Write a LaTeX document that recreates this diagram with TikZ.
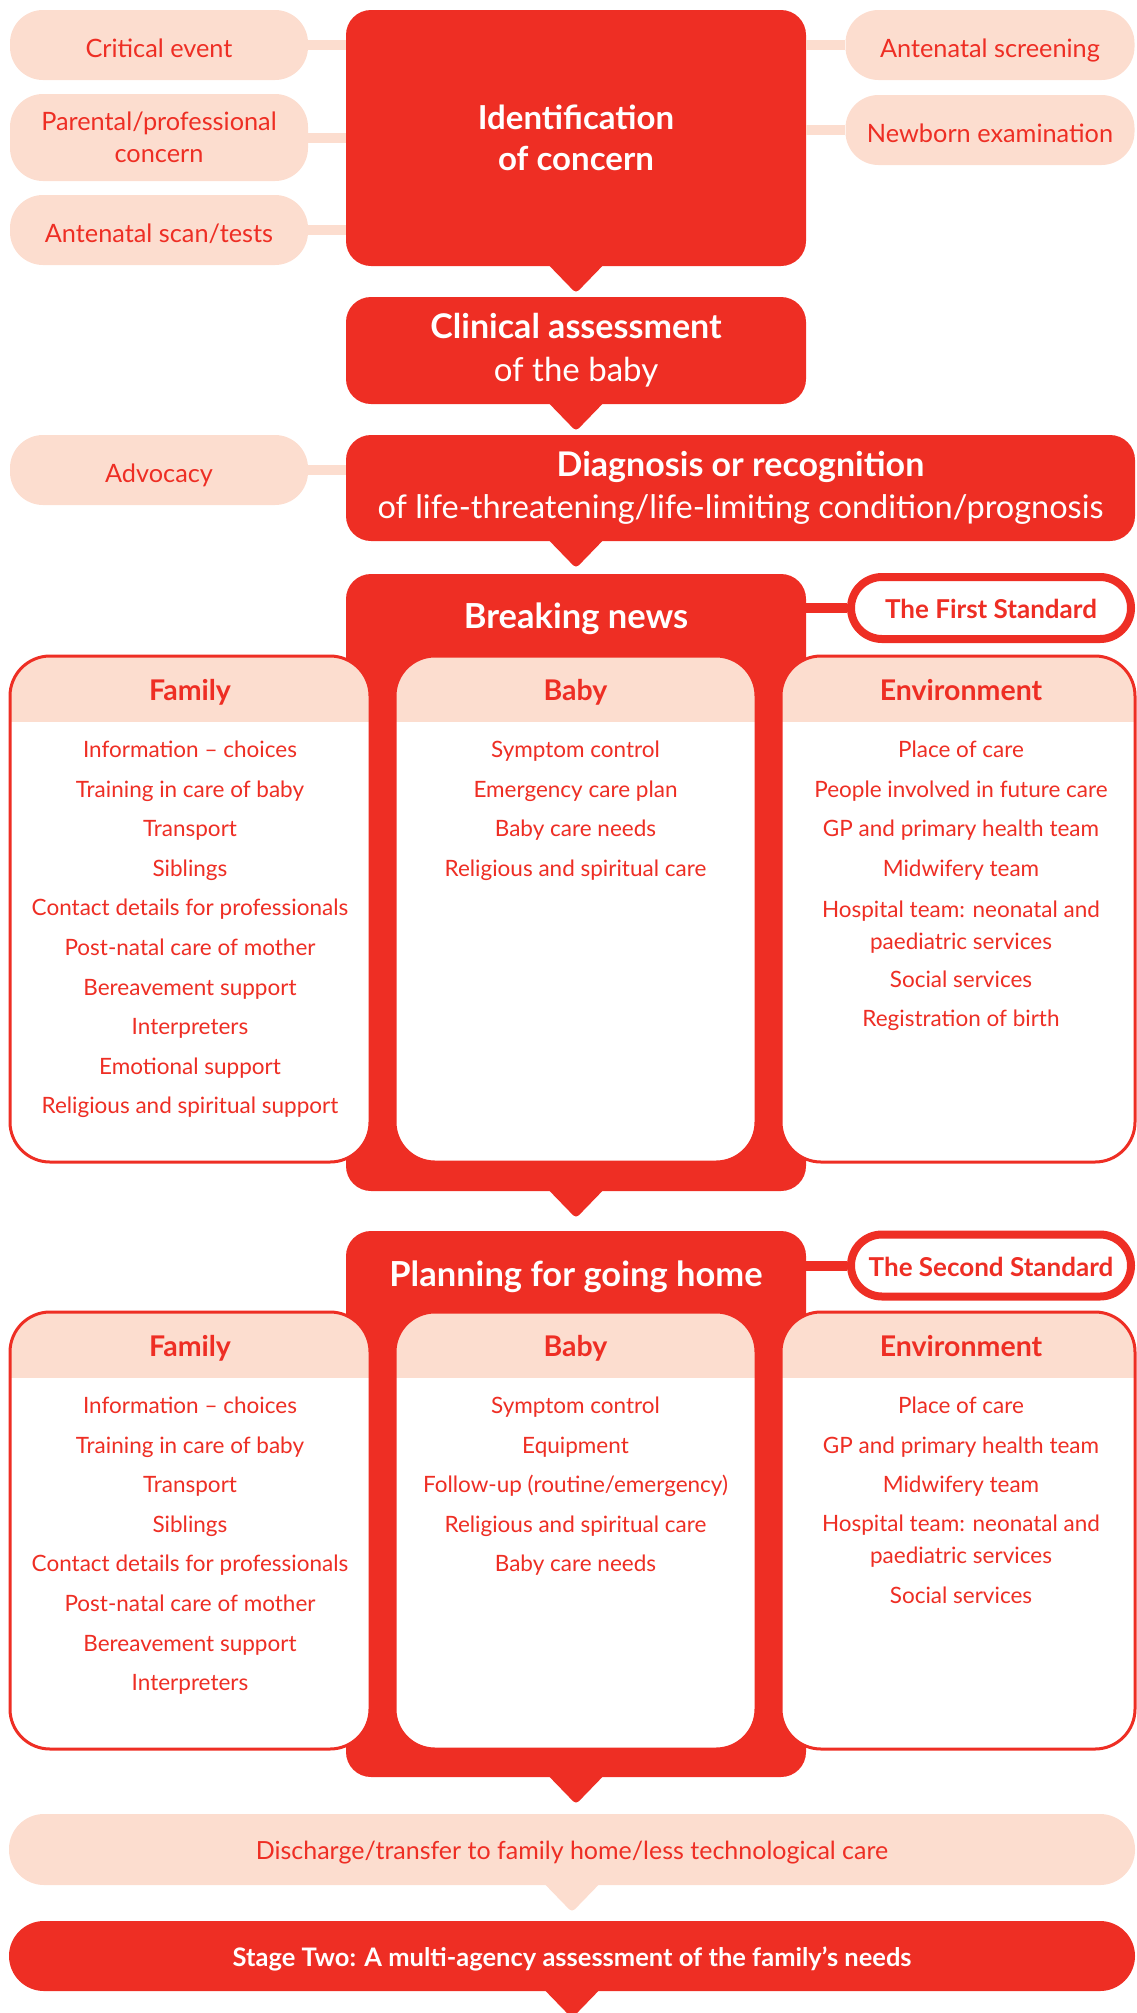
\documentclass[tikz,border=0pt]{standalone}
\usepackage{fontspec}
\setmainfont{Lato}
\definecolor{ncred}{HTML}{EE2E24}
\definecolor{ncpink}{HTML}{FCDDCF}
\begin{document}
\begin{tikzpicture}[x=1pt,y=-1pt,
    redbox/.style={fill=ncred,text=white,rounded corners=25pt,align=center,inner sep=0pt},
    pill/.style={fill=ncpink,text=ncred,rounded corners=33pt,align=center,inner sep=0pt,
      minimum width=298pt,minimum height=70pt,text height=24pt,text depth=0pt,
      font=\fontsize{25.3}{32}\selectfont},
    stdpill/.style={draw=ncred,line width=8pt,fill=white,text=ncred,rounded corners=31pt,
      minimum width=280pt,minimum height=62pt,inner sep=0pt,text height=21pt,text depth=0pt,
      font=\bfseries\fontsize{26}{30}\selectfont},
    colbox/.style={draw=ncred,line width=3pt,fill=white,rounded corners=40pt,inner sep=0pt,
      path picture={\fill[ncpink,sharp corners] (path picture bounding box.north west) rectangle
        ([yshift=-66pt]path picture bounding box.north east);}},
    title/.style={text=white,inner sep=0pt,text height=23pt,text depth=7pt,
      font=\bfseries\fontsize{34.5}{40}\selectfont},
    head/.style={text=ncred,inner sep=0pt,text height=20pt,text depth=6pt,
      font=\bfseries\fontsize{28.5}{32}\selectfont},
    txt/.style={text=ncred,align=center,inner sep=0pt,font=\fontsize{22.5}{32}\selectfont},
    item/.style={txt,text height=16pt,text depth=5pt},
    link/.style={ncpink,line width=10pt},
    stdlink/.style={ncred,line width=10pt}]
\useasboundingbox (0,0) rectangle (1137,2013);
% identification, assessment, diagnosis
\node[redbox,minimum width=460pt,minimum height=256pt,font=\bfseries\fontsize{33}{41}\selectfont]
  (ident) at (576,138) {Identification\\of concern};
\node[redbox,minimum width=460pt,minimum height=107pt,font=\fontsize{33}{43}\selectfont]
  (clin) at (576,350.5) {{\bfseries\fontsize{34}{43}\selectfont Clinical assessment}\\of the baby};
\node[redbox,minimum width=789pt,minimum height=106pt,font=\fontsize{32.5}{42}\selectfont]
  (diag) at (740.5,488) {{\bfseries\fontsize{34}{42}\selectfont Diagnosis or recognition}\\of life-threatening/life-limiting condition/prognosis};
\node[pill] (crit) at (159,45) {Critical event};
\node[pill,minimum height=87pt,text height=,text depth=] (concern) at (159,137.5) {Parental/professional\\concern};
\node[pill] (scan) at (159,230) {Antenatal scan/tests};
\node[pill] (advoc) at (159,470) {Advocacy};
\node[pill,minimum width=289pt] (screen) at (990,45) {Antenatal screening};
\node[pill,minimum width=289pt] (newborn) at (990,130) {Newborn examination};
\foreach \p in {crit,concern,scan}
  \draw[link] (\p.east) -- (\p.east -| ident.west);
\draw[link] (advoc.east) -- (advoc.east -| diag.west);
\foreach \p in {screen,newborn}
  \draw[link] (\p.west) -- (\p.west -| ident.east);
% the first standard
\node[redbox,minimum width=460pt,minimum height=617pt] (brk) at (576,882.5) {};
\node[title] (brkt) at (576,620) {Breaking news};
\node[stdpill] (std1) at (991,608) {The First Standard};
\draw[stdlink] (brk.east |- std1) -- (std1.west);
\node[colbox,minimum width=360pt,minimum height=506pt] (fam1) at (190,909) {};
\node[colbox,minimum width=361pt,minimum height=506pt] (baby1) at (575.5,909) {};
\node[colbox,minimum width=354pt,minimum height=506pt] (env1) at (958,909) {};
\node[head] (fam1h) at ([yshift=-39pt]fam1.north) {Family};
\node[head] (baby1h) at ([yshift=-39pt]baby1.north) {Baby};
\node[head] (env1h) at ([xshift=3pt,yshift=-39pt]env1.north) {Environment};
\foreach \t [count=\i from 0] in {Information – choices,Training in care of baby,Transport,Siblings,
    Contact details for professionals,Post-natal care of mother,Bereavement support,Interpreters,
    Emotional support,Religious and spiritual support}
  \node[item] (fam1-\i) at (190,{752+39.6*\i}) {\t};
\foreach \t [count=\i from 0] in {Symptom control,Emergency care plan,Baby care needs,
    Religious and spiritual care}
  \node[item] (baby1-\i) at (575.5,{752+39.6*\i}) {\t};
\foreach \y/\t [count=\i] in {752/Place of care,791.6/People involved in future care,
    831.2/GP and primary health team,870.8/Midwifery team,982/Social services,1021/Registration of birth}
  \node[item] (env1-\i) at (961,\y) {\t};
\node[txt] (env1-hosp) at (961,927) {Hospital team: neonatal and\\paediatric services};
% the second standard
\node[redbox,minimum width=460pt,minimum height=546pt] (plan) at (576,1504) {};
\node[title] (plant) at (576,1278) {Planning for going home};
\node[stdpill] (std2) at (991,1265.5) {The Second Standard};
\draw[stdlink] (plan.east |- std2) -- (std2.west);
\node[colbox,minimum width=360pt,minimum height=437pt] (fam2) at (190,1530.5) {};
\node[colbox,minimum width=361pt,minimum height=437pt] (baby2) at (575.5,1530.5) {};
\node[colbox,minimum width=354pt,minimum height=437pt] (env2) at (958,1530.5) {};
\node[head] (fam2h) at ([yshift=-39pt]fam2.north) {Family};
\node[head] (baby2h) at ([yshift=-39pt]baby2.north) {Baby};
\node[head] (env2h) at ([xshift=3pt,yshift=-39pt]env2.north) {Environment};
\foreach \t [count=\i from 0] in {Information – choices,Training in care of baby,Transport,Siblings,
    Contact details for professionals,Post-natal care of mother,Bereavement support,Interpreters}
  \node[item] (fam2-\i) at (190,{1408+39.6*\i}) {\t};
\foreach \t [count=\i from 0] in {Symptom control,Equipment,Follow-up (routine/emergency),
    Religious and spiritual care,Baby care needs}
  \node[item] (baby2-\i) at (575.5,{1408+39.6*\i}) {\t};
\foreach \y/\t [count=\i] in {1408/Place of care,1447.6/GP and primary health team,
    1487.2/Midwifery team,1598/Social services}
  \node[item] (env2-\i) at (961,\y) {\t};
\node[txt] (env2-hosp) at (961,1541.5) {Hospital team: neonatal and\\paediatric services};
% discharge and stage two
\node[pill,minimum width=1126pt,minimum height=71pt,rounded corners=35pt,text height=20pt,
  font=\fontsize{25}{32}\selectfont] (disch) at (572,1849.5)
  {Discharge/transfer to family home/less technological care};
\node[redbox,minimum width=1126pt,minimum height=70pt,rounded corners=35pt,text height=21pt,text depth=0pt,
  font=\bfseries\fontsize{25.5}{30}\selectfont] (stage) at (572,1956)
  {Stage Two: A multi-agency assessment of the family’s needs};
% pointers
\coordinate (diagn) at (diag.south -| clin.south);
\foreach \p in {ident.south,clin.south,diagn,brk.south,plan.south,stage.south}
  \fill[ncred,rounded corners=4pt] ([xshift=-32pt,yshift=6pt]\p) -- ([xshift=32pt,yshift=6pt]\p)
    -- ([yshift=-27pt]\p) -- cycle;
\fill[ncpink,rounded corners=4pt] ([xshift=-32pt,yshift=6pt]disch.south) -- ([xshift=32pt,yshift=6pt]disch.south)
  -- ([yshift=-27pt]disch.south) -- cycle;
\end{tikzpicture}
\end{document}
